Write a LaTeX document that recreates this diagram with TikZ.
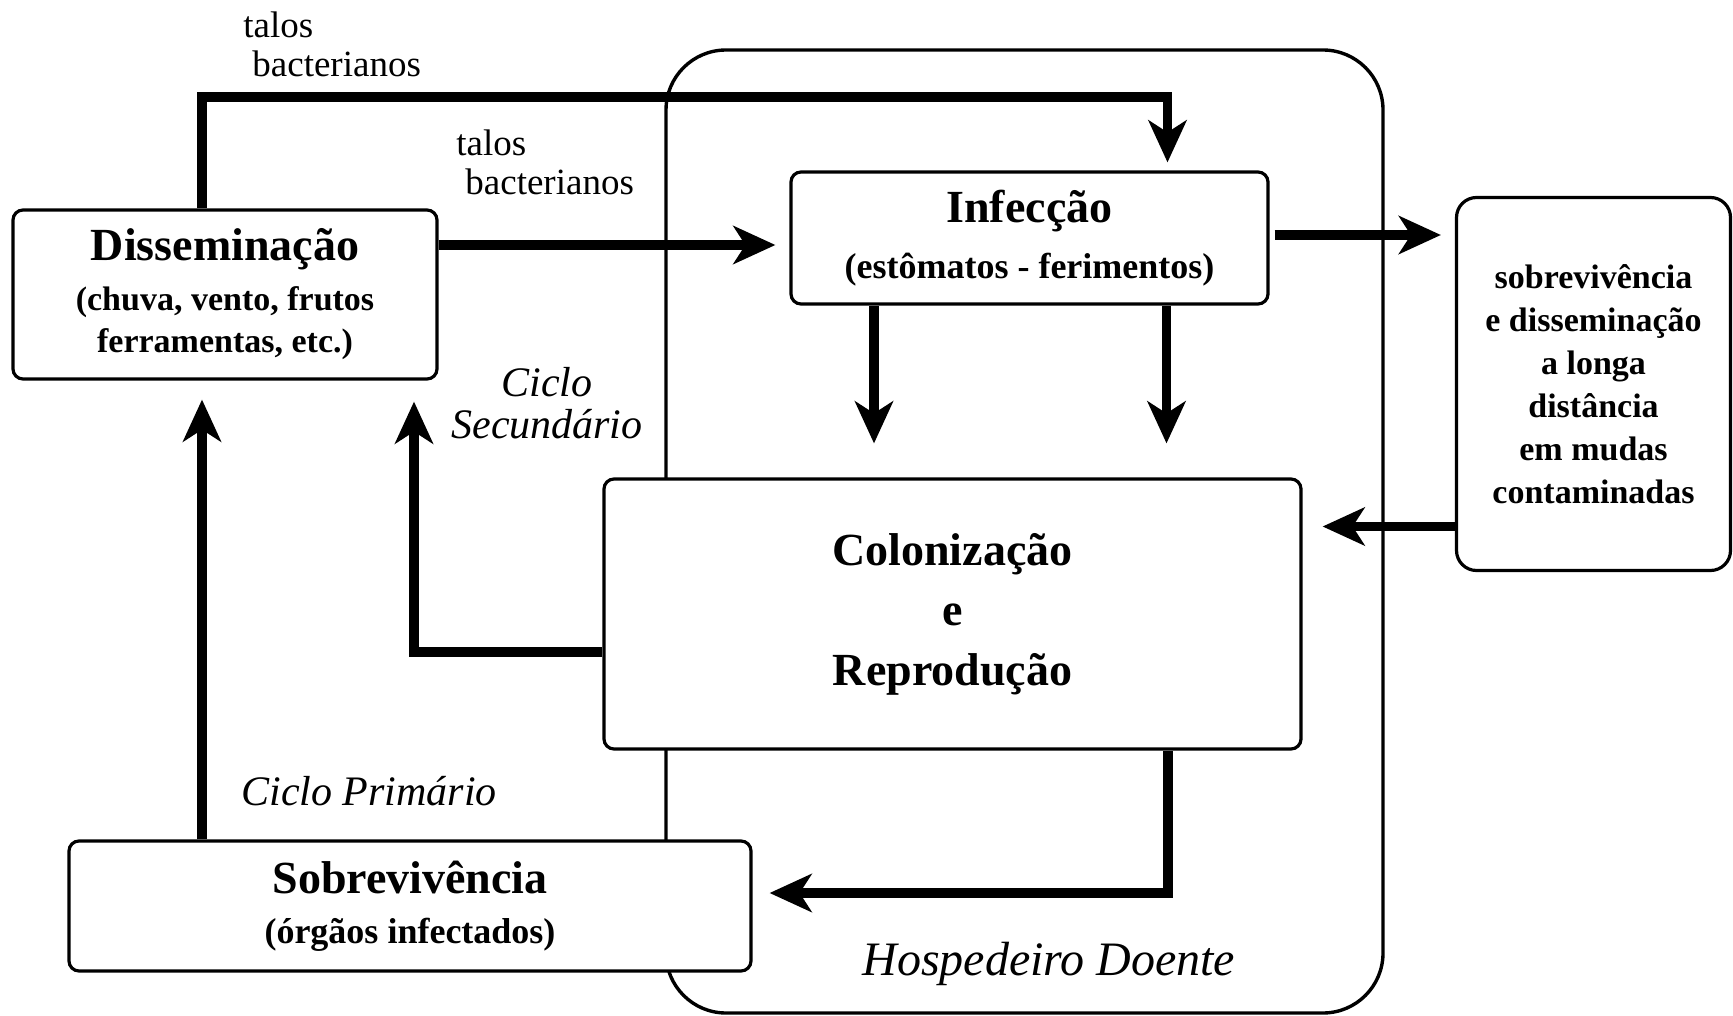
\documentclass[tikz,border=0pt]{standalone}
\usepackage{fontspec}
\setmainfont{Liberation Serif}
\usetikzlibrary{arrows.meta}

\begin{document}
\begin{tikzpicture}[x=0.5pt, y=-0.5pt]
    \tikzstyle{box} = [draw, rounded corners=5pt, line width=1.6pt, fill=white, align=center, inner sep=0pt]
    \tikzstyle{flow} = [line width=4.6pt, -{Stealth[length=21pt, width=19pt, inset=6pt]}]
    \tikzstyle{talos} = [inner sep=0pt, align=left, font=\fontsize{18.5}{19.5}\selectfont]
    \tikzstyle{ciclo} = [inner sep=0pt, font=\fontsize{21}{21}\selectfont\itshape]

    \useasboundingbox (0,0) rectangle (1733,1016);

    % Host (big rounded frame)
    \node[draw, rounded corners=30pt, line width=1.7pt, minimum width=358.5pt, minimum height=481.5pt] (host) at (1024.5,531.5) {};

    % Boxes
    \node[box, minimum width=212pt, minimum height=84.5pt, font=\fontsize{17}{21}\selectfont\bfseries] (diss) at (225,294.5)
        {{\fontsize{23}{27}\selectfont Disseminação}\\[4pt] (chuva, vento, frutos\\ ferramentas, etc.)};
    \node[box, minimum width=238.5pt, minimum height=66pt, font=\fontsize{18}{22}\selectfont\bfseries] (inf) at (1029.5,238)
        {{\fontsize{23}{27}\selectfont Infecção}\\[6pt] (estômatos - ferimentos)};
    \node[box, minimum width=348.5pt, minimum height=135pt, font=\fontsize{23}{30}\selectfont\bfseries] (col) at (952.5,614)
        {Colonização\\ e\\ Reprodução};
    \node[box, minimum width=341pt, minimum height=65pt, font=\fontsize{18}{22}\selectfont\bfseries] (sob) at (410,906)
        {{\fontsize{23}{27}\selectfont Sobrevivência}\\[3pt] (órgãos infectados)};
    \node[box, rounded corners=10pt, minimum width=137pt, minimum height=186.5pt, font=\fontsize{17}{21.5}\selectfont\bfseries] (sdl) at (1593.5,384)
        {sobrevivência\\ e disseminação\\ a longa\\ distância\\ em mudas\\ contaminadas};

    % Labels
    \node[talos, anchor=north west] (tal1) at (243,11) {talos\\\hspace*{4.5pt}bacterianos};
    \node[talos, anchor=north west] (tal2) at (456,129) {talos\\\hspace*{4.5pt}bacterianos};
    \node[ciclo, anchor=north, align=center] (csec) at (547,367) {Ciclo\\ Secundário};
    \node[ciclo, anchor=base west] (cprim) at (241,805) {Ciclo Primário};
    \node[inner sep=0pt, anchor=base west, font=\fontsize{24}{24}\selectfont\itshape] (hosp) at (862,975) {Hospedeiro Doente};

    % Arrows
    \coordinate (top) at (700,97);
    \draw[flow, shorten >=4pt] ([xshift=-11.5pt]diss.north) |- (top) -| ([xshift=69pt]inf.north);
    \draw[flow, shorten >=7pt] ([yshift=24.75pt]diss.east) -- ([yshift=24.75pt]diss.east -| inf.west);
    \draw[flow, shorten <=2.5pt, shorten >=7pt] ([yshift=1.5pt]inf.east) -- ([yshift=1.5pt]inf.east -| sdl.west);
    \draw[flow, shorten >=17pt] ([xshift=-77.75pt]inf.south) -- ([xshift=-77.75pt]inf.south |- col.north);
    \draw[flow, shorten >=17pt] ([xshift=68.5pt]inf.south) -- ([xshift=68.5pt]inf.south |- col.north);
    \draw[flow, shorten >=10pt] ([yshift=-71.25pt]sdl.west) -- ([yshift=-71.25pt]sdl.west -| col.east);
    \draw[flow, shorten >=8.5pt] ([xshift=107.75pt]col.south) |- ([yshift=6.5pt]sob.east);
    \draw[flow, shorten >=10.5pt] ([yshift=-19pt]col.west) -| ([xshift=94.5pt]diss.south);
    \draw[flow, shorten >=9.5pt] ([xshift=-104pt]sob.north) -- ([xshift=-104pt]sob.north |- diss.south);
\end{tikzpicture}
\end{document}
